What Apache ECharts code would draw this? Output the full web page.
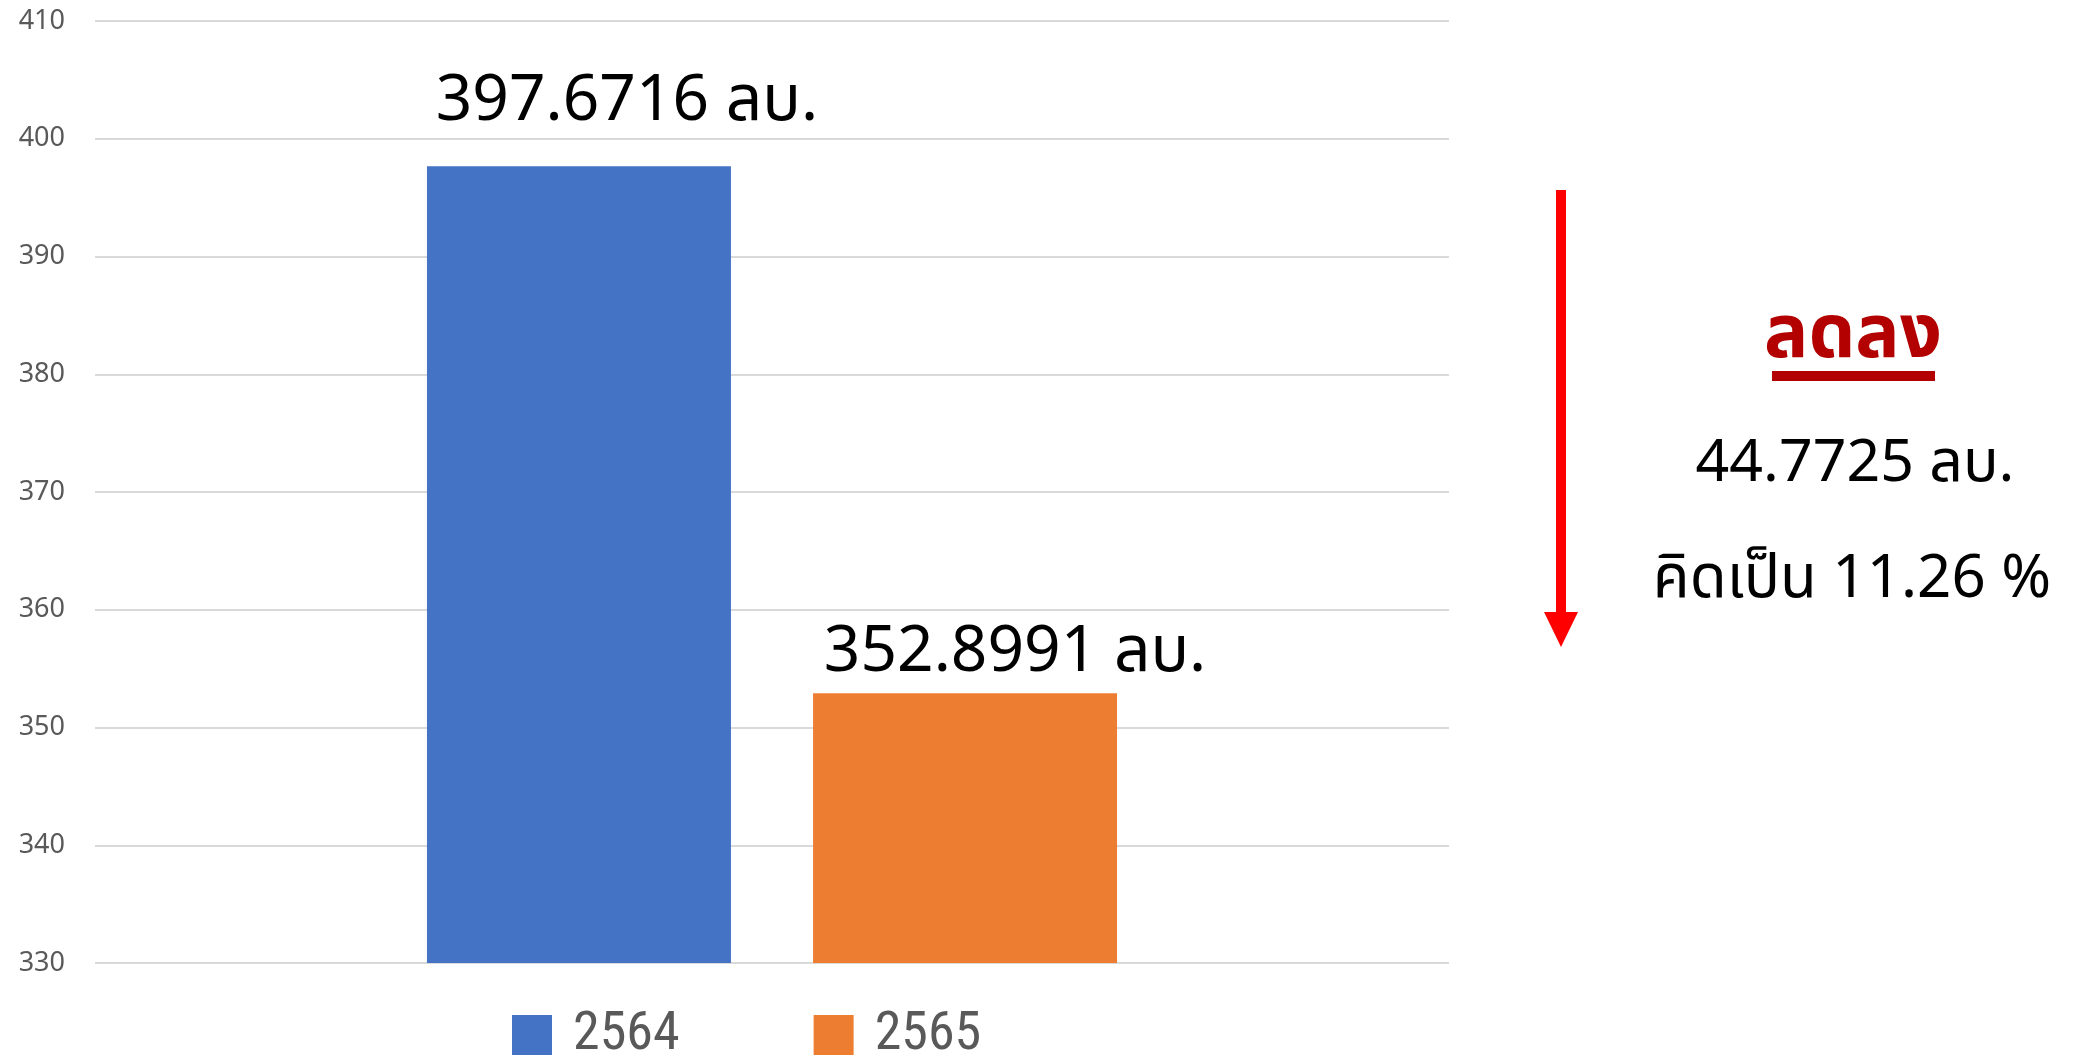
<!DOCTYPE html>
<html>
<head>
<meta charset="utf-8">
<script src="https://cdn.jsdelivr.net/npm/echarts@6/dist/echarts.min.js"></script>
<style>
  html, body { margin: 0; padding: 0; background: #fff; }
  #chart { width: 2080px; height: 1057px; }
</style>
</head>
<body>
<div id="chart"></div>
<script>
// data
const categories = [''];
const seriesNames = ['2564', '2565'];
const values = [397.6716, 352.8991];
const barColors = ['#4472c4', '#ed7d31'];
const unit = 'ลบ.';
const yMin = 330, yMax = 410, yStep = 10;
const changeWord = 'ลดลง';
const changeAmount = 44.7725;
const changePercent = 11.26;

// label placement per bar (style only)
const labelOffsets = [[48, -27], [50, -4]];

const thaiFont = '"Noto Sans", "Noto Sans Thai", "Leelawadee UI", Tahoma, sans-serif';

let myChart = echarts.init(document.getElementById('chart'));

const series = seriesNames.map(function (name, i) {
  return {
    name: name,
    type: 'bar',
    barWidth: 304,
    barGap: '27%',
    itemStyle: { color: barColors[i] },
    label: {
      show: true,
      position: 'top',
      offset: labelOffsets[i],
      formatter: function (p) { return p.value + ' ' + unit; },
      fontSize: 64,
      color: '#000',
      fontFamily: thaiFont
    },
    data: [values[i]]
  };
});

const option = {
  animation: false,
  backgroundColor: '#fff',
  grid: { left: 95, right: 631, top: 21, bottom: 94 },
  legend: {
    data: seriesNames,
    top: 1003,
    left: 507,
    itemWidth: 40,
    itemHeight: 40,
    itemGap: 134,
    icon: 'rect',
    textStyle: {
      fontSize: 54, color: '#595959',
      fontFamily: '"Liberation Sans Narrow", "Roboto Condensed", Lato, sans-serif',
      padding: [0, 0, 0, 16]
    }
  },
  xAxis: {
    type: 'category',
    data: categories,
    axisLine: { show: false },
    axisTick: { show: false },
    axisLabel: { show: false }
  },
  yAxis: {
    type: 'value',
    min: yMin,
    max: yMax,
    interval: yStep,
    axisLine: { show: false },
    axisTick: { show: false },
    axisLabel: { fontSize: 27, color: '#595959', margin: 30, fontFamily: '"Noto Sans", sans-serif' },
    splitLine: { lineStyle: { color: '#d9d9d9', width: 2 } }
  },
  graphic: [
    // down arrow
    { type: 'rect', shape: { x: 1556, y: 190, width: 10, height: 424 }, style: { fill: '#ff0000' } },
    { type: 'polygon', shape: { points: [[1544, 612], [1578, 612], [1561, 647]] }, style: { fill: '#ff0000' } },
    {
      type: 'text', x: 1853, y: 336,
      style: { text: changeWord, fontSize: 74, fontWeight: 'bold', fill: '#b30000', fontFamily: thaiFont, align: 'center', verticalAlign: 'middle' }
    },
    { type: 'rect', shape: { x: 1772, y: 371, width: 163, height: 10 }, style: { fill: '#b30000' } },
    {
      type: 'text', x: 1855, y: 464,
      style: { text: changeAmount + ' ' + unit, fontSize: 59, fill: '#000', fontFamily: thaiFont, align: 'center', verticalAlign: 'middle' }
    },
    {
      type: 'text', x: 1852, y: 580,
      style: { text: 'คิดเป็น ' + changePercent + ' %', fontSize: 60, fill: '#000', fontFamily: thaiFont, align: 'center', verticalAlign: 'middle' }
    }
  ],
  series: series
};

myChart.setOption(option, true);
</script>
</body>
</html>
